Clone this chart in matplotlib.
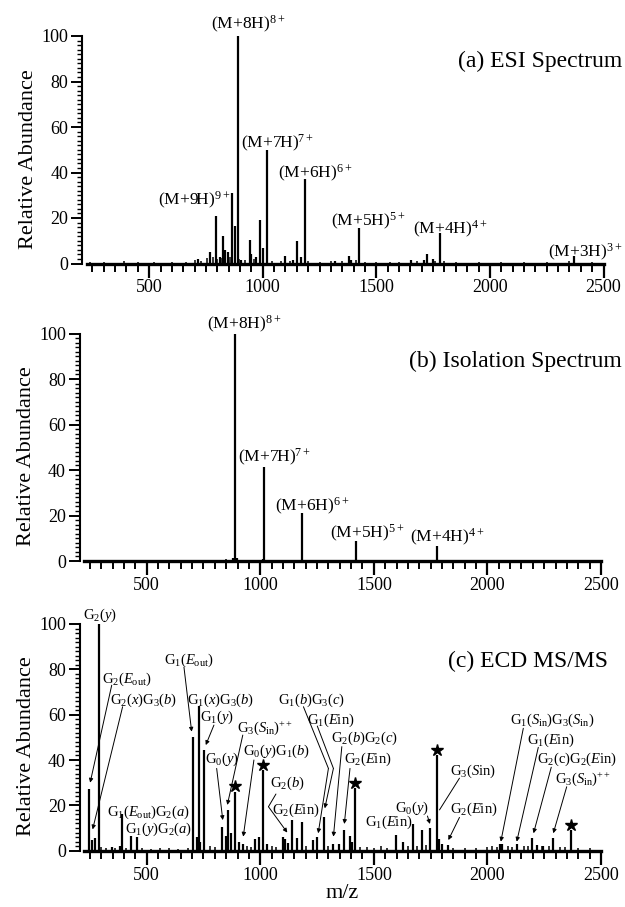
import matplotlib
matplotlib.use("Agg")
import matplotlib.pyplot as plt
import numpy as np
from matplotlib.ticker import MultipleLocator, FixedLocator

plt.rcParams['font.family'] = ['Liberation Serif', 'DejaVu Serif']
plt.rcParams['mathtext.fontset'] = 'custom'
plt.rcParams['mathtext.rm'] = 'Liberation Serif'
plt.rcParams['mathtext.it'] = 'Liberation Serif:italic'
plt.rcParams['mathtext.bf'] = 'Liberation Serif:bold'

# ---------------- data ----------------
# (a) ESI spectrum
esi_mz = [713, 767, 793, 810, 827, 834, 848, 863, 877, 889, 903, 944, 950, 968, 986,
          1003, 1017, 1100, 1131, 1149, 1168, 1185, 1318, 1378, 1389, 1424, 1652,
          1709, 1721, 1748, 1780, 2371]
esi_int = [2, 5, 21, 3, 12, 6, 5, 31, 16.5, 100, 1.5, 10.3, 4, 3, 19.2,
           7, 50, 3.5, 1.5, 9.8, 3, 37, 1, 3.5, 1.5, 15.8, 1.5,
           1.5, 4, 2, 13.5, 3.5]
esi_noise_mz = [240, 300, 390, 450, 520, 600, 660, 700, 730, 755, 780, 800, 820, 855,
                895, 920, 960, 1040, 1080, 1120, 1200, 1250, 1300, 1350, 1410, 1450,
                1500, 1560, 1600, 1680, 1760, 1800, 1850, 1950, 2050, 2150, 2250,
                2350, 2450]
esi_noise_int = [0.6, 0.8, 1, 0.7, 0.6, 0.8, 0.7, 1.5, 1.2, 2.5, 3, 2, 2.5, 3,
                 2, 1.5, 2, 1, 1.2, 1, 1, 0.8, 1, 1, 1.5, 0.8,
                 0.8, 0.7, 0.8, 1, 1.2, 1, 0.7, 0.6, 0.7, 0.6, 0.6,
                 1, 0.6]
esi_labels = [r'(M+9H)$^{9+}$', r'(M+8H)$^{8+}$', r'(M+7H)$^{7+}$', r'(M+6H)$^{6+}$',
              r'(M+5H)$^{5+}$', r'(M+4H)$^{4+}$', r'(M+3H)$^{3+}$']
esi_label_x = [696, 935, 1065, 1230, 1462, 1827, 2421]
esi_label_y = [25.6, 103, 50.8, 37.6, 16.4, 13.0, 2.6]

# (b) Isolation spectrum
iso_mz = [880, 889, 897, 1010, 1017, 1185, 1422, 1778]
iso_int = [1.5, 100, 1.5, 0.8, 41.4, 21.2, 8.6, 6.7]
iso_noise_mz = [250, 350, 450, 550, 650, 750, 850, 950, 1100, 1300, 1500, 1600, 1700,
                1900, 2000, 2100, 2200, 2300, 2400]
iso_noise_int = [0.5, 0.5, 0.5, 0.5, 0.5, 0.6, 0.8, 0.6, 0.5, 0.5, 0.5, 0.5, 0.5,
                 0.5, 0.5, 0.5, 0.5, 0.5, 0.5]
iso_labels = [r'(M+8H)$^{8+}$', r'(M+7H)$^{7+}$', r'(M+6H)$^{6+}$',
              r'(M+5H)$^{5+}$', r'(M+4H)$^{4+}$']
iso_label_x = [928, 1063, 1230, 1470, 1822]
iso_label_y = [101.8, 43.4, 22.1, 10.2, 8.5]

# (c) ECD MS/MS
ecd_mz = [247, 258, 272, 291, 346, 382, 390, 430, 459, 705, 720, 729, 736, 752,
          833, 848, 857, 871, 887, 905, 925, 977, 993, 1013, 1030,
          1102, 1110, 1121, 1141, 1160, 1184, 1231, 1251, 1281, 1322, 1348,
          1370, 1394, 1405, 1417, 1598, 1627, 1671, 1714, 1747, 1777, 1788,
          1800, 1828, 2056, 2063, 2129, 2195, 2220, 2246, 2288, 2367]
ecd_int = [27, 4.5, 5.5, 100, 1.5, 2, 16, 6.5, 6, 50, 6, 64, 4, 44.5,
           10.3, 6.5, 18, 8, 26, 4, 3, 5, 6, 35.5, 3,
           6.2, 5, 3.5, 13.6, 5.5, 12.8, 4.5, 6, 14.7, 3, 3,
           9.2, 6.5, 4, 27.5, 7, 4, 11.8, 9.2, 10.2, 42, 5,
           3, 2.5, 3, 3, 3, 5.4, 2.5, 2, 5.4, 9]
ecd_noise_mz = [300, 320, 360, 410, 480, 520, 560, 600, 640, 680, 780, 800, 940, 960,
                1050, 1070, 1200, 1300, 1440, 1470, 1500, 1530, 1560, 1650, 1690,
                1730, 1850, 1900, 1950, 2000, 2020, 2040, 2090, 2110, 2160, 2180,
                2240, 2270, 2320, 2340, 2400, 2450]
ecd_noise_int = [1.5, 1, 1, 1, 1, 0.8, 1, 1, 0.8, 1.2, 2, 1.5, 2, 1.5,
                 2, 1.5, 2, 2, 1.5, 1.5, 1, 2, 1, 2, 2,
                 2.5, 1, 1, 1, 1.5, 2, 1.5, 2, 1.5, 2, 2,
                 2, 2, 1.5, 1.5, 1, 1]
star_mz = [887, 1013, 1417, 1777, 2367]
star_int = [26, 35.5, 27.5, 42, 9]

# annotations: text, text x, text y, arrow start (x, y), arrow tip (x, y)
ecd_ann = [
    (r'G$_2$($y$)', 294, 104, None, None),
    (r'G$_2$($E_{\mathrm{out}}$)', 411, 75.8, (346, 73), (251, 30)),
    (r'G$_2$($x$)G$_3$($b$)', 488, 66.5, (394, 63.5), (262, 9.4)),
    (r'G$_1$($E_{\mathrm{out}}$)G$_2$($a$)', 507, 16.8, None, None),
    (r'G$_1$($y$)G$_2$($a$)', 552, 9.4, None, None),
    (r'G$_1$($E_{\mathrm{out}}$)', 686, 83.8, (664, 81), (698, 52.5)),
    (r'G$_1$($x$)G$_3$($b$)', 826, 66.5, None, None),
    (r'G$_1$($y$)', 808, 58.8, (796, 55.4), (760, 46.6)),
    (r'G$_0$($y$)', 830, 40.3, (808, 36.3), (835, 13.5)),
    (r'G$_3$($S_{\mathrm{in}}$)$^{++}$', 1022, 54, (923, 51), (855, 20.2)),
    (r'G$_0$($y$)G$_1$($b$)', 1072, 43.7, (972, 40), (925, 6.2)),
    (r'G$_2$($E\mathrm{in}$)', 1156, 17.6, None, None),
    (r'G$_2$($b$)G$_2$($c$)', 1460, 49.6, (1359, 45.9), (1322, 6.2)),
    (r'G$_2$($E\mathrm{in}$)', 1472, 40.3, (1395, 36.3), (1370, 11.8)),
    (r'G$_1$($E\mathrm{in}$)', 1567, 12.4, None, None),
    (r'G$_0$($y$)', 1666, 18.7, (1736, 15.3), (1747, 11.8)),
    (r'G$_2$($E\mathrm{in}$)', 1938, 18.3, (1877, 14.7), (1828, 4.7)),
    (r'G$_1$($S_{\mathrm{in}}$)G$_3$($S_{\mathrm{in}}$)', 2286, 57.6, (2158, 54), (2059, 4)),
    (r'G$_1$($E\mathrm{in}$)', 2279, 48.8, (2224, 45.6), (2129, 4)),
    (r'G$_2$(c)G$_2$($E\mathrm{in}$)', 2396, 40.3, (2281, 36.8), (2203, 7.7)),
    (r'G$_3$($S_{\mathrm{in}}$)$^{++}$', 2423, 31.5, (2349, 28.2), (2290, 7.7)),
]
# bent leaders: text, text x, text y, start, bend, tip
ecd_bent = [
    (r'G$_2$($b$)', 1119, 29.7, (1069, 25), (1036, 19.4), (1119, 8)),
    (r'G$_1$($b$)G$_3$($c$)', 1226, 66.5, (1190, 63.5), (1300, 36.3), (1255, 7.7)),
    (r'G$_1$($E\mathrm{in}$)', 1311, 57.6, (1251, 55), (1322, 36.3), (1284, 18.7)),
]
# plain line (no head)
ecd_line = [(r'G$_3$($S\mathrm{in}$)', 1938, 35.2, (1877, 32), (1789, 18))]

# ---------------- figure ----------------
W, H = 625, 907
fig = plt.figure(figsize=(W / 100, H / 100), dpi=100)

XMIN, XMAX = 224, 2500


def make_axes(left_px, y0_px, y100_px):
    ax = fig.add_axes([left_px / W, 1 - y0_px / H, (601 - 84) / W, (y0_px - y100_px) / H])
    ax.set_xlim(XMIN, XMAX)
    ax.set_ylim(0, 100)
    for s in ['top', 'right']:
        ax.spines[s].set_visible(False)
    ax.spines['left'].set_bounds(0, 100)
    ax.spines['left'].set_position(('outward', 3))
    ax.spines['left'].set_linewidth(1.5)
    ax.spines['bottom'].set_linewidth(2.4)
    ax.xaxis.set_major_locator(FixedLocator([500, 1000, 1500, 2000, 2500]))
    ax.xaxis.set_minor_locator(FixedLocator(np.arange(250, 2500, 50)))
    ax.yaxis.set_major_locator(MultipleLocator(20))
    ax.yaxis.set_minor_locator(MultipleLocator(2))
    ax.tick_params(axis='x', which='major', direction='out', length=10, width=1.6,
                   pad=1.5, labelsize=13)
    ax.tick_params(axis='x', which='minor', direction='out', length=5.5, width=1.4)
    ax.tick_params(axis='y', which='major', direction='out', length=8, width=1.4,
                   pad=2, labelsize=13)
    ax.tick_params(axis='y', which='minor', direction='out', length=3.5, width=1.0)
    ax.set_ylabel('Relative Abundance', fontsize=16)
    ax.yaxis.set_label_coords(-0.093, 0.46)
    return ax


ax_a = make_axes(86.5, 263.5, 36)
ax_b = make_axes(84, 561, 333.5)
ax_c = make_axes(84, 850.7, 624)

lw_peak = 1.6
# (a)
ax_a.vlines(esi_noise_mz, 0, esi_noise_int, color='black', lw=1.1)
ax_a.vlines(esi_mz, 0, esi_int, color='black', lw=lw_peak)
for t, x, y in zip(esi_labels, esi_label_x, esi_label_y):
    ax_a.text(x, y, t, ha='center', va='baseline', fontsize=12.5, clip_on=False)
fig.text(622 / W, 1 - 61.7 / H, '(a) ESI Spectrum', ha='right', va='center', fontsize=17)

# (b)
ax_b.vlines(iso_noise_mz, 0, iso_noise_int, color='black', lw=1.1)
ax_b.vlines(iso_mz, 0, iso_int, color='black', lw=lw_peak)
for t, x, y in zip(iso_labels, iso_label_x, iso_label_y):
    ax_b.text(x, y, t, ha='center', va='baseline', fontsize=12.5, clip_on=False)
fig.text(622 / W, 1 - 361.7 / H, '(b) Isolation Spectrum', ha='right', va='center', fontsize=17)

# (c)
ax_c.vlines(ecd_noise_mz, 0, ecd_noise_int, color='black', lw=1.1)
ax_c.vlines(ecd_mz, 0, ecd_int, color='black', lw=lw_peak)
ax_c.plot(star_mz, np.array(star_int) + 2.4, linestyle='none', marker='*',
          color='black', markersize=9, clip_on=False)
fs_c = 10.5
arrow_kw = dict(arrowstyle='-|>', lw=0.7, color='black', mutation_scale=6,
                shrinkA=0, shrinkB=0)
for t, x, y, start, tip in ecd_ann:
    ax_c.text(x, y, t, ha='center', va='center', fontsize=fs_c, clip_on=False)
    if start is not None:
        ax_c.annotate('', xy=tip, xytext=start, arrowprops=arrow_kw)
for t, x, y, start, bend, tip in ecd_bent:
    ax_c.text(x, y, t, ha='center', va='center', fontsize=fs_c, clip_on=False)
    ax_c.annotate('', xy=bend, xytext=start,
                  arrowprops=dict(arrowstyle='-', lw=0.7, color='black',
                                  shrinkA=0, shrinkB=0))
    ax_c.annotate('', xy=tip, xytext=bend, arrowprops=arrow_kw)
for t, x, y, start, tip in ecd_line:
    ax_c.text(x, y, t, ha='center', va='center', fontsize=fs_c, clip_on=False)
    ax_c.annotate('', xy=tip, xytext=start,
                  arrowprops=dict(arrowstyle='-', lw=0.7, color='black',
                                  shrinkA=0, shrinkB=0))
fig.text(608 / W, 1 - 661.7 / H, '(c) ECD MS/MS', ha='right', va='center', fontsize=17)
fig.text(342 / W, 1 - 893 / H, 'm/z', ha='center', va='center', fontsize=16)

fig.savefig('out.png', dpi=100)
